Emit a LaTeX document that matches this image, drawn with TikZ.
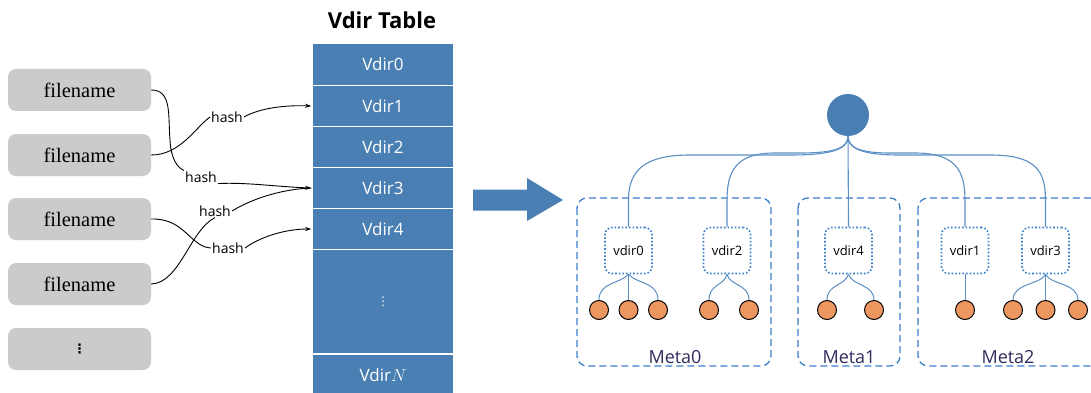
\documentclass[tikz,border=0pt]{standalone}
\usepackage{fontspec}
\setmainfont{Liberation Serif}
\newfontfamily\uifont{Open Sans}
\newfontfamily\symfont{DejaVu Sans}
\usetikzlibrary{arrows.meta,calc}
\definecolor{tblue}{HTML}{4A7FB3}
\definecolor{lblue}{HTML}{5B8FC4}
\definecolor{dblue}{HTML}{3B7FCB}
\definecolor{fgray}{HTML}{CACBCD}
\definecolor{leaforange}{HTML}{EE9660}
\definecolor{metatext}{HTML}{2F2C5C}
\tikzset{
  fbox/.style={fill=fgray, rounded corners=8pt, minimum width=143pt, minimum height=42pt, inner sep=0pt, font=\fontsize{20.5}{24}\selectfont},
  trow/.style={fill=tblue, draw=white, line width=1.5pt, minimum width=142pt, inner sep=0pt, text=white, font=\uifont\fontsize{17}{20}\selectfont},
  hashlbl/.style={font=\uifont\fontsize{14}{16}\selectfont, inner sep=1pt},
  harrow/.style={-{Stealth[length=6pt,width=4pt]}, line width=0.9pt, black},
  hline/.style={line width=0.9pt, black},
  metabox/.style={draw=dblue, dashed, dash pattern=on 7pt off 4pt, line width=1.3pt, rounded corners=10pt},
  vnode/.style={draw=dblue, dotted, line width=1.6pt, rounded corners=7pt, minimum width=47pt, minimum height=46pt, inner sep=0pt, font=\uifont\fontsize{13}{15}\selectfont},
  leaf/.style={circle, fill=leaforange, draw=black, line width=1pt, minimum size=19pt, inner sep=0pt},
  tline/.style={draw=lblue, line width=1.1pt},
  metalbl/.style={text=metatext, font=\uifont\fontsize{18}{21}\selectfont, inner sep=0pt}
}
\begin{document}
\begin{tikzpicture}[x=1pt,y=-1pt]
\useasboundingbox (0,0) rectangle (1091,393);
% filename boxes
\node[fbox] (f1) at (79.5,90) {filename};
\node[fbox] (f2) at (79.5,155) {filename};
\node[fbox] (f3) at (79.5,219) {filename};
\node[fbox] (f4) at (79.5,284) {filename};
\node[fbox, font=\symfont\bfseries\fontsize{13}{15}\selectfont] (f5) at (79.5,349) {⋮};
% table
\node[font=\uifont\bfseries\fontsize{22}{26}\selectfont] (title) at (382,20) {Vdir Table};
\node[trow, minimum height=42pt] (r0) at (383,64.5) {Vdir0};
\node[trow, minimum height=41pt] (r1) at (383,106) {Vdir1};
\node[trow, minimum height=41pt] (r2) at (383,147) {Vdir2};
\node[trow, minimum height=41pt] (r3) at (383,188) {Vdir3};
\node[trow, minimum height=41pt] (r4) at (383,229) {Vdir4};
\node[trow, minimum height=104pt, font=\symfont\fontsize{12}{14}\selectfont] (rd) at (383,301.5) {⋮};
\node[trow, minimum height=42pt, anchor=north] (rn) at (383,353.5) {Vdir$N$};
% hash labels
\node[hashlbl] (h1) at (227,117) {hash};
\node[hashlbl] (h2) at (201,177) {hash};
\node[hashlbl] (h3) at (215,211) {hash};
\node[hashlbl] (h4) at (228,248) {hash};
% hash connectors
\draw[hline] (f1.east) .. controls (172,90) and (168,115) .. (170,140) .. controls (171,160) and (178,168) .. (h2.north west);
\draw[harrow] (h2.south east) .. controls (245,182) and (280,187) .. (r3.west);
\draw[hline] (f2.east) .. controls (180,155) and (195,128) .. (h1.west);
\draw[harrow] (h1.east) .. controls (260,108) and (285,105) .. (r1.west);
\draw[hline] (f4.east) .. controls (180,283) and (190,230) .. (h3.south);
\draw[hline] (h3.east) .. controls (255,197) and (285,189) .. (r3.west);
\draw[hline] (f3.east) .. controls (185,218) and (190,247) .. (h4.west);
\draw[harrow] (h4.east) .. controls (260,237) and (285,229) .. (r4.west);
% big arrow
\fill[tblue] (473,189.5) -- (527,189.5) -- (527,178) -- (563,200) -- (527,221) -- (527,210.5) -- (473,210.5) -- cycle;
% meta boxes
\draw[metabox] (577,198) rectangle (771,366);
\draw[metabox] (798,198) rectangle (900,366);
\draw[metabox] (918,198) rectangle (1101,366);
\node[metalbl] (m0) at (675,357) {Meta0};
\node[metalbl] (m1) at (849,357) {Meta1};
\node[metalbl] (m2) at (1008,357) {Meta2};
% root
\node[circle, fill=tblue, minimum size=42pt, inner sep=0pt] (root) at (848,115) {};
% vdir nodes
\node[vnode] (v0) at (628.5,250.5) {vdir0};
\node[vnode] (v2) at (727,250.5) {vdir2};
\node[vnode] (v4) at (848.5,250.5) {vdir4};
\node[vnode] (v1) at (965,250.5) {vdir1};
\node[vnode] (v3) at (1045.5,250.5) {vdir3};
% root connectors
\draw[tline] (root.south) .. controls (848,150) and (830,155) .. (790,155) -- (690,155) .. controls (645,155) and (628.5,170) .. (628.5,200) -- (v0.north);
\draw[tline] (root.south) .. controls (848,148) and (835,153) .. (800,153) -- (775,153) .. controls (737,153) and (727,170) .. (727,200) -- (v2.north);
\draw[tline] (root.south) -- (v4.north);
\draw[tline] (root.south) .. controls (848,148) and (861,153) .. (890,153) -- (915,153) .. controls (955,153) and (965,170) .. (965,200) -- (v1.north);
\draw[tline] (root.south) .. controls (848,150) and (866,155) .. (900,155) -- (990,155) .. controls (1035,155) and (1045.5,170) .. (1045.5,200) -- (v3.north);
% leaves
\node[leaf] (l01) at (599,310) {};
\node[leaf] (l02) at (628.5,310) {};
\node[leaf] (l03) at (658,310) {};
\node[leaf] (l21) at (709,310) {};
\node[leaf] (l22) at (749,310) {};
\node[leaf] (l41) at (827,310) {};
\node[leaf] (l42) at (874,310) {};
\node[leaf] (l11) at (965,310) {};
\node[leaf] (l31) at (1013,310) {};
\node[leaf] (l32) at (1045.5,310) {};
\node[leaf] (l33) at (1078,310) {};
% leaf connectors
\tikzset{lc/.style={tline, line width=1pt}}
\draw[lc] (v0.south) .. controls (620,284) and (599,282) .. (l01.north);
\draw[lc] (v0.south) -- (l02.north);
\draw[lc] (v0.south) .. controls (637,284) and (658,282) .. (l03.north);
\draw[lc] (v2.south) .. controls (724,286) and (709,284) .. (l21.north);
\draw[lc] (v2.south) .. controls (730,286) and (749,284) .. (l22.north);
\draw[lc] (v4.south) .. controls (845,286) and (827,284) .. (l41.north);
\draw[lc] (v4.south) .. controls (852,286) and (874,284) .. (l42.north);
\draw[lc] (v1.south) -- (l11.north);
\draw[lc] (v3.south) .. controls (1040,285) and (1013,283) .. (l31.north);
\draw[lc] (v3.south) -- (l32.north);
\draw[lc] (v3.south) .. controls (1051,285) and (1078,283) .. (l33.north);
\end{tikzpicture}
\end{document}
